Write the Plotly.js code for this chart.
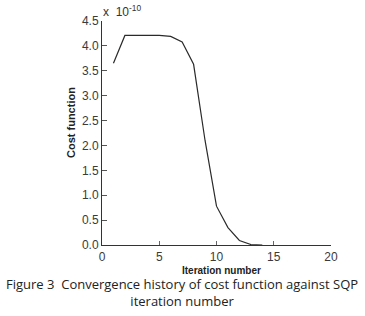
<!DOCTYPE html>
<html><head><meta charset="utf-8">
<script src="https://cdn.plot.ly/plotly-3.0.1.min.js"></script>
<style>html,body{margin:0;padding:0;background:#fff;}#chart{width:365px;height:316px;}</style>
</head><body><div id="chart"></div>
<script>
// Iteration number
const iterations = [1, 2, 3, 4, 5, 6, 7, 8, 9, 10, 11, 12, 13, 14];
// Cost function (x 10^-10)
const costValues = [3.65, 4.21, 4.21, 4.21, 4.21, 4.19, 4.08, 3.63, 2.1, 0.78, 0.35, 0.09, 0.01, 0.0];
const xTicks = [0, 5, 10, 15, 20];
const yTicks = [0, 0.5, 1, 1.5, 2, 2.5, 3, 3.5, 4, 4.5];

const trace = {
  x: iterations, y: costValues, type: 'scatter', mode: 'lines',
  line: {color: '#2a2a2a', width: 1.2}, hoverinfo: 'skip'
};
const tickFont = {family: 'Liberation Sans, Arial, sans-serif', size: 12, color: '#3a3a3a'};
const layout = {
  width: 365, height: 316,
  margin: {l: 102, r: 34, t: 20.5, b: 71},
  paper_bgcolor: '#fff', plot_bgcolor: '#fff',
  showlegend: false,
  xaxis: {
    range: [0, 20], tickvals: xTicks, ticktext: xTicks.map(String),
    ticks: 'inside', ticklen: 4, tickcolor: '#666', tickwidth: 1,
    showline: true, linecolor: '#333', linewidth: 1.2,
    showgrid: false, zeroline: false, tickfont: tickFont, fixedrange: true
  },
  yaxis: {
    range: [0, 4.5], tickvals: yTicks, ticktext: yTicks.map(v => v.toFixed(1)),
    ticks: 'inside', ticklen: 5, tickcolor: '#555', tickwidth: 1,
    showline: true, linecolor: '#333', linewidth: 1,
    showgrid: false, zeroline: false, tickfont: tickFont, fixedrange: true
  },
  annotations: [
    {text: 'x  10<sup>-10</sup>', xref: 'paper', yref: 'paper', x: -0.005, y: 1.045,
     xanchor: 'left', yanchor: 'middle', showarrow: false,
     font: {family: 'Liberation Sans, Arial, sans-serif', size: 12, color: '#333'}},
    {text: '<b>Cost function</b>', xref: 'paper', yref: 'paper', x: -0.135, y: 0.545,
     xanchor: 'center', yanchor: 'middle', textangle: -90, showarrow: false,
     font: {family: 'Liberation Sans, Arial, sans-serif', size: 11, color: '#222'}},
    {text: '<b>Iteration number</b>', xref: 'paper', yref: 'paper', x: 0.523, y: -0.114,
     xanchor: 'center', yanchor: 'middle', showarrow: false,
     font: {family: 'Liberation Sans, Arial, sans-serif', size: 10, color: '#222'}},
    {text: 'Figure 3  Convergence history of cost function against SQP<br>iteration number',
     xref: 'paper', yref: 'paper', x: 0.349, y: -0.21,
     xanchor: 'center', yanchor: 'middle', showarrow: false, align: 'center',
     font: {family: 'Open Sans, sans-serif', size: 13, color: '#222'}}
  ]
};
Plotly.newPlot('chart', [trace], layout, {displayModeBar: false, staticPlot: true});
</script></body></html>
